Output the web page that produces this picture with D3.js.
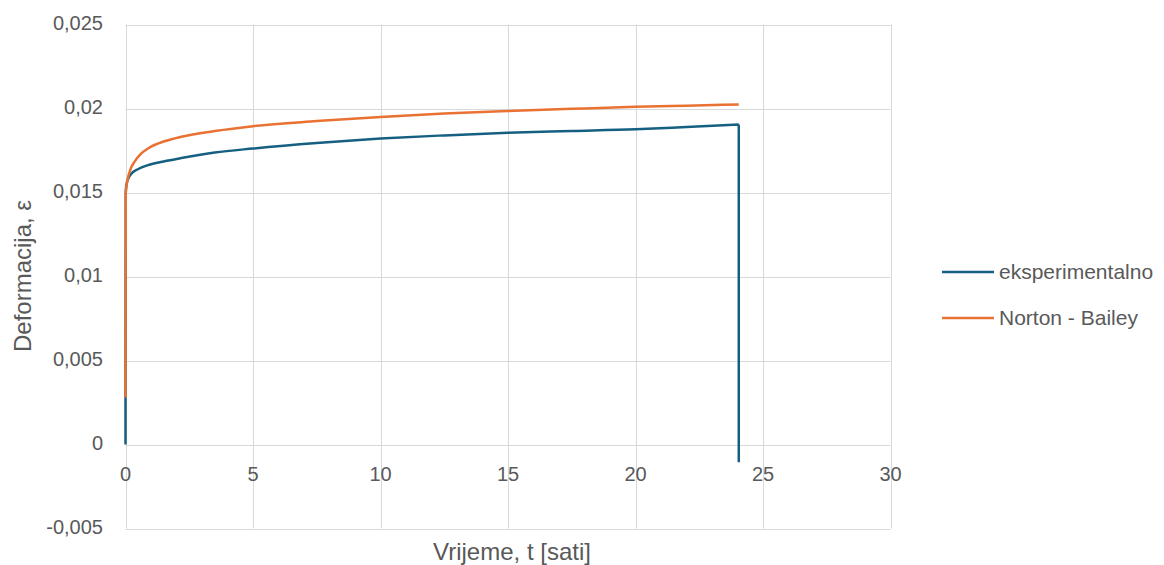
<!DOCTYPE html>
<html>
<head>
<meta charset="utf-8">
<script src="https://cdn.jsdelivr.net/npm/d3@7/dist/d3.min.js"></script>
<style>
  body { margin: 0; background: #fff; }
  svg { display: block; }
  text { font-family: "Liberation Sans", Arial, sans-serif; fill: #595959; }
</style>
</head>
<body>
<svg id="chart" width="1164" height="565"></svg>
<script>
// Data
const expT   = [0, 0, 0.01, 0.03, 0.1, 0.22, 0.5, 0.88, 1.5, 2.19, 3.5, 5, 7.5, 10, 12.5, 15, 17.5, 20, 22, 24.05, 24.05];
const expEps = [0, 0.0028, 0.0150, 0.0154, 0.0158, 0.0161, 0.0164, 0.01663, 0.01685, 0.01705, 0.01738, 0.01762, 0.01795, 0.01821, 0.0184, 0.01856, 0.01866, 0.01876, 0.0189, 0.01905, -0.00105];
const nbT    = [0, 0.01, 0.03, 0.09, 0.2, 0.35, 0.6, 0.88, 1.53, 2.19, 3.5, 5, 7.5, 10, 12.5, 15, 17.5, 20, 22, 24.05];
const nbEps  = [0.0028, 0.0150, 0.0153, 0.01583, 0.0164, 0.01682, 0.0173, 0.01762, 0.01805, 0.01832, 0.01866, 0.01895, 0.01925, 0.0195, 0.0197, 0.01985, 0.01998, 0.0201, 0.02017, 0.02024];
const xTicks = [0, 5, 10, 15, 20, 25, 30];
const yTicks = [-0.005, 0, 0.005, 0.01, 0.015, 0.02, 0.025];
const seriesNames = ["eksperimentalno", "Norton - Bailey"];
const seriesColors = ["#156082", "#E97132"];

const svg = d3.select("#chart");
const x = d3.scaleLinear().domain([0, 30]).range([125.5, 890.5]);
const y = d3.scaleLinear().domain([-0.005, 0.025]).range([528.5, 24.5]);
const fmt = d => d === 0 ? "0" : String(+d.toFixed(3)).replace(".", ",");

// gridlines
svg.append("g").selectAll("line").data(yTicks).join("line")
  .attr("x1", x(0)).attr("x2", x(30))
  .attr("y1", d => Math.round(y(d)) + 0.5).attr("y2", d => Math.round(y(d)) + 0.5)
  .attr("stroke", "#d9d9d9").attr("stroke-width", 1);
svg.append("g").selectAll("line").data(xTicks).join("line")
  .attr("x1", d => Math.round(x(d)) + 0.5).attr("x2", d => Math.round(x(d)) + 0.5)
  .attr("y1", y(0.025)).attr("y2", y(-0.005))
  .attr("stroke", "#d9d9d9").attr("stroke-width", 1);

// y tick labels
svg.append("g").selectAll("text").data(yTicks).join("text")
  .attr("x", 103).attr("y", d => y(d) + 5)
  .attr("text-anchor", "end").attr("font-size", 20)
  .text(fmt);
// x tick labels (at the y=0 axis)
svg.append("g").selectAll("text").data(xTicks).join("text")
  .attr("x", d => x(d)).attr("y", y(0) + 36.5)
  .attr("text-anchor", "middle").attr("font-size", 20)
  .text(d => d);

// series: smooth where time increases, straight for the vertical jumps
const smooth = d3.line().x(d => x(d[0])).y(d => y(d[1])).curve(d3.curveMonotoneX);
const straight = d3.line().x(d => x(d[0])).y(d => y(d[1]));
const expData = expT.map((t, i) => [t, expEps[i]]);
const nbData = nbT.map((t, i) => [t, nbEps[i]]);
const n = expData.length;
const expPath = straight(expData.slice(0, 3)) + "M" + smooth(expData.slice(2, n - 1)).slice(1) + straight(expData.slice(n - 2));
svg.append("path").attr("d", expPath)
  .attr("fill", "none").attr("stroke", seriesColors[0]).attr("stroke-width", 2.5)
  .attr("stroke-linejoin", "round").attr("stroke-linecap", "butt");
svg.append("path").attr("d", straight(nbData.slice(0, 2)) + "M" + smooth(nbData.slice(1)).slice(1))
  .attr("fill", "none").attr("stroke", seriesColors[1]).attr("stroke-width", 2.5)
  .attr("stroke-linejoin", "round");

// axis titles
svg.append("text").attr("x", 512).attr("y", 560).attr("text-anchor", "middle")
  .attr("font-size", 24).text("Vrijeme, t [sati]");
svg.append("text").attr("transform", "translate(31,276) rotate(-90)").attr("text-anchor", "middle")
  .attr("font-size", 24).text("Deformacija, ε");

// legend
const leg = svg.append("g").selectAll("g").data(seriesNames).join("g")
  .attr("transform", (d, i) => `translate(942,${272 + i * 46})`);
leg.append("line").attr("x1", 0).attr("x2", 52).attr("y1", 0).attr("y2", 0)
  .attr("stroke", (d, i) => seriesColors[i]).attr("stroke-width", 2.5);
leg.append("text").attr("x", 57).attr("y", 0).attr("dy", "0.35em").attr("font-size", 21).text(d => d);
</script>
</body>
</html>
